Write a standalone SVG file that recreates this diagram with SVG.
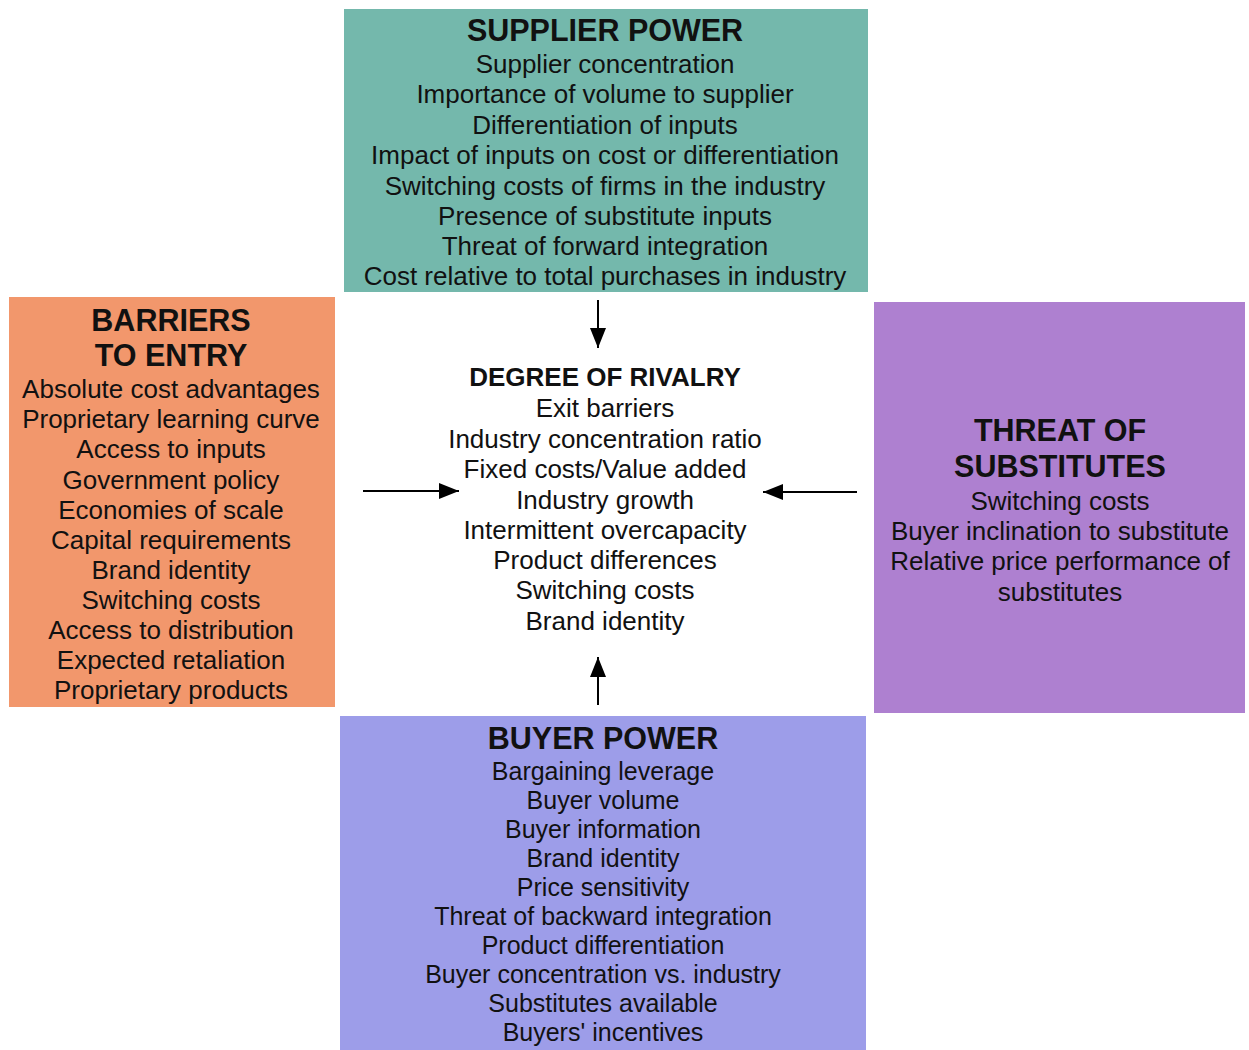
<svg xmlns="http://www.w3.org/2000/svg" width="1249" height="1050" viewBox="0 0 1249 1050">
<defs>
<style>
text{font-family:"Liberation Sans",Arial,sans-serif;fill:#111;text-anchor:middle;}
.t{font-size:30.5px;font-weight:bold;}
.rt{font-size:26px;font-weight:bold;}
.i{font-size:26px;}
.b{font-size:25px;}
.arr{stroke:#000;stroke-width:2;fill:none;}
</style>
<marker id="ah" viewBox="0 0 20 16" refX="20" refY="8" markerWidth="20" markerHeight="16" markerUnits="userSpaceOnUse" orient="auto">
<path d="M0,0 L20,8 L0,16 Z" fill="#000"/>
</marker>
</defs>
<rect width="1249" height="1050" fill="#fff"/>

<g id="supplier-power">
<rect x="344" y="9" width="524" height="283" fill="#74B8AC"/>
<text class="t" x="605" y="41">SUPPLIER POWER</text>
<text class="i" x="605" y="73">Supplier concentration</text>
<text class="i" x="605" y="103">Importance of volume to supplier</text>
<text class="i" x="605" y="134">Differentiation of inputs</text>
<text class="i" x="605" y="164">Impact of inputs on cost or differentiation</text>
<text class="i" x="605" y="195">Switching costs of firms in the industry</text>
<text class="i" x="605" y="225">Presence of substitute inputs</text>
<text class="i" x="605" y="255">Threat of forward integration</text>
<text class="i" x="605" y="285">Cost relative to total purchases in industry</text>
</g>

<g id="barriers-to-entry">
<rect x="9" y="297" width="326" height="410" fill="#F2976C"/>
<text class="t" x="171" y="331">BARRIERS</text>
<text class="t" x="171" y="366">TO ENTRY</text>
<text class="i" x="171" y="398">Absolute cost advantages</text>
<text class="i" x="171" y="428">Proprietary learning curve</text>
<text class="i" x="171" y="458">Access to inputs</text>
<text class="i" x="171" y="489">Government policy</text>
<text class="i" x="171" y="519">Economies of scale</text>
<text class="i" x="171" y="549">Capital requirements</text>
<text class="i" x="171" y="579">Brand identity</text>
<text class="i" x="171" y="609">Switching costs</text>
<text class="i" x="171" y="639">Access to distribution</text>
<text class="i" x="171" y="669">Expected retaliation</text>
<text class="i" x="171" y="699">Proprietary products</text>
</g>

<g id="threat-of-substitutes">
<rect x="874" y="302" width="371" height="411" fill="#AE80D0"/>
<text class="t" x="1060" y="441">THREAT OF</text>
<text class="t" x="1060" y="477">SUBSTITUTES</text>
<text class="i" x="1060" y="510">Switching costs</text>
<text class="i" x="1060" y="540">Buyer inclination to substitute</text>
<text class="i" x="1060" y="570">Relative price performance of</text>
<text class="i" x="1060" y="601">substitutes</text>
</g>

<g id="degree-of-rivalry">
<text class="rt" x="605" y="386">DEGREE OF RIVALRY</text>
<text class="i" x="605" y="417">Exit barriers</text>
<text class="i" x="605" y="448">Industry concentration ratio</text>
<text class="i" x="605" y="478">Fixed costs/Value added</text>
<text class="i" x="605" y="509">Industry growth</text>
<text class="i" x="605" y="539">Intermittent overcapacity</text>
<text class="i" x="605" y="569">Product differences</text>
<text class="i" x="605" y="599">Switching costs</text>
<text class="i" x="605" y="630">Brand identity</text>
</g>

<g id="buyer-power">
<rect x="340" y="716" width="526" height="334" fill="#9D9DE9"/>
<text class="t" x="603" y="749">BUYER POWER</text>
<text class="b" x="603" y="780">Bargaining leverage</text>
<text class="b" x="603" y="809">Buyer volume</text>
<text class="b" x="603" y="838">Buyer information</text>
<text class="b" x="603" y="867">Brand identity</text>
<text class="b" x="603" y="896">Price sensitivity</text>
<text class="b" x="603" y="925">Threat of backward integration</text>
<text class="b" x="603" y="954">Product differentiation</text>
<text class="b" x="603" y="983">Buyer concentration vs. industry</text>
<text class="b" x="603" y="1012">Substitutes available</text>
<text class="b" x="603" y="1041">Buyers' incentives</text>
</g>

<g id="connectors">
<line class="arr" x1="598" y1="300" x2="598" y2="348" marker-end="url(#ah)"/>
<line class="arr" x1="363" y1="491" x2="459" y2="491" marker-end="url(#ah)"/>
<line class="arr" x1="857" y1="492" x2="763" y2="492" marker-end="url(#ah)"/>
<line class="arr" x1="598" y1="705" x2="598" y2="657" marker-end="url(#ah)"/>
</g>
</svg>
